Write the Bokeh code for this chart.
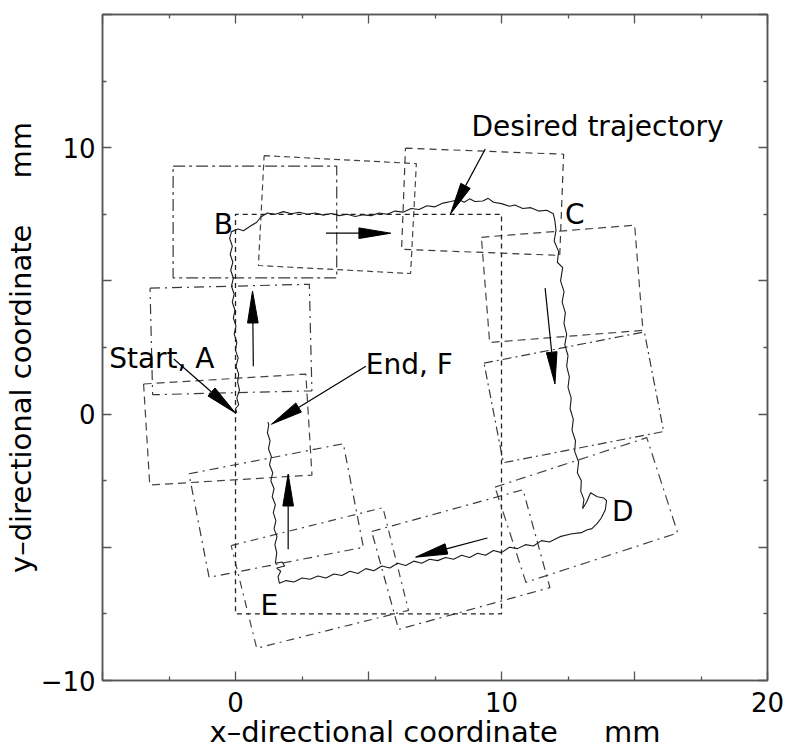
import numpy as np
from bokeh.plotting import figure
from bokeh.models import Range1d, LinearAxis, FixedTicker
from bokeh.embed import file_html
from bokeh.resources import INLINE
from bokeh.core.properties import value

# ---------------- data (mm) ----------------
# desired trajectory A -> B -> C -> D -> E -> F
desired_x = [0, 0, 10, 10, 0, 0]
desired_y = [0, 7.5, 7.5, -7.5, -7.5, 0]

traj_x = [0.05, 0.0, 0.12, 0.05, 0.15, 0.08, 0.12, 0.02, 0.1, 0.0, 0.05, -0.05, 0.02, -0.08, -0.02,
          -0.12, -0.05, -0.15, -0.08, -0.18, -0.1, -0.2, -0.12, -0.22, -0.15,
          0.1, 0.3, 0.55, 0.8, 0.95, 1.2,
          1.5, 1.8, 2.1, 2.4, 2.7, 3.0, 3.3, 3.6, 3.9, 4.2, 4.5, 4.8, 5.1, 5.4, 5.7, 6.0, 6.3, 6.6,
          6.9, 7.2, 7.5, 7.8, 8.1, 8.4, 8.6, 8.8, 9.0, 9.3, 9.5, 9.7, 10.0, 10.3, 10.5, 10.8, 11.1,
          11.4, 11.7, 11.95,
          12.0, 12.05, 11.98, 12.15, 12.1, 12.3, 12.22, 12.35, 12.28, 12.4, 12.35, 12.45, 12.38, 12.5,
          12.45, 12.55, 12.5, 12.62, 12.58, 12.7, 12.65, 12.78, 12.75, 12.9, 12.85, 13.0, 12.98, 13.1,
          13.05,
          13.2, 13.35, 13.6, 13.85, 13.95, 13.9, 13.75, 13.6, 13.4, 13.2, 13.0,
          12.6, 12.2, 11.8, 11.5, 11.2, 10.9, 10.6, 10.3, 10.0, 9.7, 9.4, 9.1, 8.8, 8.5, 8.2, 7.9,
          7.6, 7.3, 7.0, 6.7, 6.4, 6.1, 5.8, 5.5, 5.2, 4.9, 4.6, 4.3, 4.0, 3.7, 3.4, 3.1, 2.8, 2.5,
          2.2, 1.9, 1.65,
          1.6, 1.7, 1.55, 1.85, 1.75, 1.5, 1.55, 1.48, 1.56, 1.45, 1.52, 1.42, 1.5, 1.38, 1.45, 1.33,
          1.4, 1.28, 1.35, 1.24, 1.3, 1.2, 1.25, 1.22]
traj_y = [0.05, 0.2, 0.35, 0.6, 0.9, 1.2, 1.5, 1.8, 2.1, 2.4, 2.7, 3.0, 3.3, 3.6, 3.9,
          4.2, 4.5, 4.8, 5.1, 5.4, 5.7, 6.0, 6.3, 6.6, 6.85,
          6.95, 6.88, 7.05, 7.2, 7.4, 7.55,
          7.5, 7.6, 7.52, 7.58, 7.5, 7.55, 7.47, 7.53, 7.45, 7.5, 7.42, 7.48, 7.45, 7.55, 7.5, 7.62,
          7.58, 7.72, 7.68, 7.82, 7.78, 7.92, 7.98, 8.05, 7.95, 8.08, 7.98, 8.0, 8.1, 7.95, 7.9, 7.8,
          7.85, 7.72, 7.75, 7.62, 7.65, 7.52,
          7.3, 6.9, 6.5, 6.1, 5.7, 5.5, 5.0, 4.6, 4.2, 3.8, 3.4, 3.0, 2.6, 2.2, 1.8, 1.4, 1.0, 0.6,
          0.2, -0.2, -0.6, -1.0, -1.4, -1.8, -2.2, -2.5, -2.9, -3.2, -3.55,
          -3.3, -2.95, -3.1, -3.15, -3.25, -3.6, -3.9, -4.1, -4.3, -4.35, -4.45,
          -4.5, -4.6, -4.8, -4.75, -4.95, -4.9, -5.05, -5.0, -5.2, -5.12, -5.3, -5.22, -5.38, -5.3,
          -5.45, -5.38, -5.5, -5.45, -5.6, -5.52, -5.68, -5.6, -5.78, -5.7, -5.88, -5.8, -5.98, -5.9,
          -6.06, -6.0, -6.15, -6.08, -6.2, -6.15, -6.3, -6.25, -6.35,
          -6.1, -5.9, -5.78, -5.7, -5.55, -5.6, -5.2, -4.9, -4.6, -4.3, -4.0, -3.7, -3.4, -3.1, -2.8,
          -2.5, -2.2, -1.9, -1.6, -1.3, -1.0, -0.7, -0.4, -0.3]

# footprints: centre, size (mm) and rotation (deg)
rect_cx = [0.73, 3.83, 9.29, 12.28, 12.72, 13.19, 8.47, 3.17, 1.53, -0.29, -0.17]
rect_cy = [7.21, 7.49, 7.97, 4.89, 0.63, -3.60, -5.46, -6.15, -3.62, -0.58, 2.80]
rect_w = [6.15, 5.73, 5.95, 5.78, 6.14, 6.0, 5.9, 5.88, 5.91, 6.11, 5.99]
rect_h = [4.2, 4.13, 3.8, 3.96, 3.81, 3.76, 3.81, 3.97, 3.96, 3.8, 4.0]
rect_angle = [0, -3, -2.2, 4.5, 11, 18, 15.4, 14, 11, 3.5, 1.4]

# arrows: start -> tip
arrow_x0 = [9.39, -2.32, 4.9, 0.67, 3.4, 11.64, 9.47, 1.98]
arrow_y0 = [9.95, 2.07, 1.8, 1.8, 6.79, 4.73, -4.65, -5.07]
arrow_x1 = [8.08, 0.0, 1.35, 0.64, 5.84, 12.01, 6.77, 1.98]
arrow_y1 = [7.51, 0.04, -0.38, 4.62, 6.79, 1.13, -5.37, -2.25]

# annotation texts and anchors
label_text = ["Desired trajectory", "Start, A", "End, F", "B", "C", "D", "E"]
label_x = [8.87, -4.75, 4.9, -0.82, 12.39, 14.15, 0.94]
label_y = [10.81, 2.10, 1.88, 7.13, 7.51, -3.64, -7.17]

x_ticks = [-5, 0, 5, 10, 15, 20]
x_tick_labels = ["", "0", "", "10", "", "20"]
y_ticks = [-10, -5, 0, 5, 10, 15]
y_tick_labels = ["\u221210", "", "0", "", "10", ""]
minor_x = [-2.5, 2.5, 7.5, 12.5, 17.5]
minor_y = [-7.5, -2.5, 2.5, 7.5, 12.5]

GAP = "\u00a0" * 5
x_title = "x\u2013directional coordinate" + GAP + "mm"
y_title = "y\u2013directional coordinate" + GAP + "mm"

# ---------------- figure ----------------
FONT = "DejaVu Sans"
p = figure(width=788, height=753, x_range=Range1d(-5, 20), y_range=Range1d(-10, 15),
           output_backend="svg", toolbar_location=None, x_axis_location=None,
           y_axis_location=None, min_border_left=99, min_border_right=21,
           min_border_top=14, min_border_bottom=73)
p.xgrid.visible = False
p.ygrid.visible = False
p.outline_line_color = "#555555"
p.outline_line_width = 1.5
p.background_fill_color = "white"
p.border_fill_color = "white"

AX = "#555555"


def make_axis(ticks, labels, minor, show):
    ax = LinearAxis(ticker=FixedTicker(ticks=ticks, minor_ticks=minor))
    ax.major_label_overrides = {t: (l if show else "") for t, l in zip(ticks, labels)}
    ax.axis_line_color = AX
    ax.axis_line_width = 1.5
    ax.major_tick_line_color = AX
    ax.minor_tick_line_color = AX
    ax.major_tick_line_width = 1.3
    ax.minor_tick_line_width = 1.3
    ax.major_tick_in = 9
    ax.major_tick_out = 0
    ax.minor_tick_in = 4
    ax.minor_tick_out = 0
    ax.major_label_text_font = FONT
    ax.major_label_text_color = "black"
    if show:
        ax.major_label_text_font_size = "26px"
    else:
        ax.major_label_text_font_size = "0px"
        ax.major_label_standoff = 0
    return ax


def style_title(ax, text):
    ax.axis_label = text
    ax.axis_label_text_font = FONT
    ax.axis_label_text_font_size = "29px"
    ax.axis_label_text_font_style = "normal"
    ax.axis_label_text_color = "black"
    ax.axis_label_standoff = 0


xb = make_axis(x_ticks, x_tick_labels, minor_x, True)
xb.major_label_standoff = 11
style_title(xb, x_title)
p.add_layout(xb, "below")
yl = make_axis(y_ticks, y_tick_labels, minor_y, True)
yl.major_label_standoff = 7
style_title(yl, y_title)
p.add_layout(yl, "left")
p.add_layout(make_axis(x_ticks, x_tick_labels, minor_x, False), "above")
p.add_layout(make_axis(y_ticks, y_tick_labels, minor_y, False), "right")

# footprints
rect_dash = ["12 4 3 4", "6 4", "7 5", "8 5", "9 4 2 4", "10 5 2 5",
             "9 5 2 5", "8 5 2 5", "9 5 2 5", "8 5", "10 5 2 5"]
rect_col = ["#3a3a3a", "#444444", "#3a3a3a", "#444444", "#3a3a3a", "#444444",
            "#3a3a3a", "#444444", "#3a3a3a", "#444444", "#3a3a3a"]
for i in range(len(rect_cx)):
    a = np.deg2rad(rect_angle[i])
    hw, hh = rect_w[i] / 2, rect_h[i] / 2
    lx = np.array([-hw, hw, hw, -hw, -hw])
    ly = np.array([hh, hh, -hh, -hh, hh])
    xs = rect_cx[i] + lx * np.cos(a) - ly * np.sin(a)
    ys = rect_cy[i] + lx * np.sin(a) + ly * np.cos(a)
    p.line(xs, ys, line_color=rect_col[i], line_width=1.2, line_dash=rect_dash[i])

# desired trajectory
p.line(desired_x, desired_y, line_color="#222222", line_width=1.3, line_dash="5 4")

# measured trajectory
p.line(traj_x, traj_y, line_color="#1a1a1a", line_width=1.1)

# arrows
HL, HW = 1.2, 0.2
hx, hy, sx0, sy0, sx1, sy1 = [], [], [], [], [], []
for x0, y0, x1, y1 in zip(arrow_x0, arrow_y0, arrow_x1, arrow_y1):
    dx, dy = x1 - x0, y1 - y0
    n = np.hypot(dx, dy)
    ux, uy = dx / n, dy / n
    bx, by = x1 - ux * HL, y1 - uy * HL
    px, py = -uy * HW, ux * HW
    hx.append([x1, bx + px, bx - px])
    hy.append([y1, by + py, by - py])
    sx0.append(x0); sy0.append(y0); sx1.append(bx); sy1.append(by)
p.segment(sx0, sy0, sx1, sy1, line_color="black", line_width=1.2)
p.patches(hx, hy, fill_color="black", line_color="black", line_width=1)

# annotation text
p.text(label_x, label_y, text=label_text, text_font=value(FONT), text_font_size="28px",
       text_align="left", text_baseline="alphabetic", text_color="black")

open("out.html", "w").write(file_html(p, INLINE))
